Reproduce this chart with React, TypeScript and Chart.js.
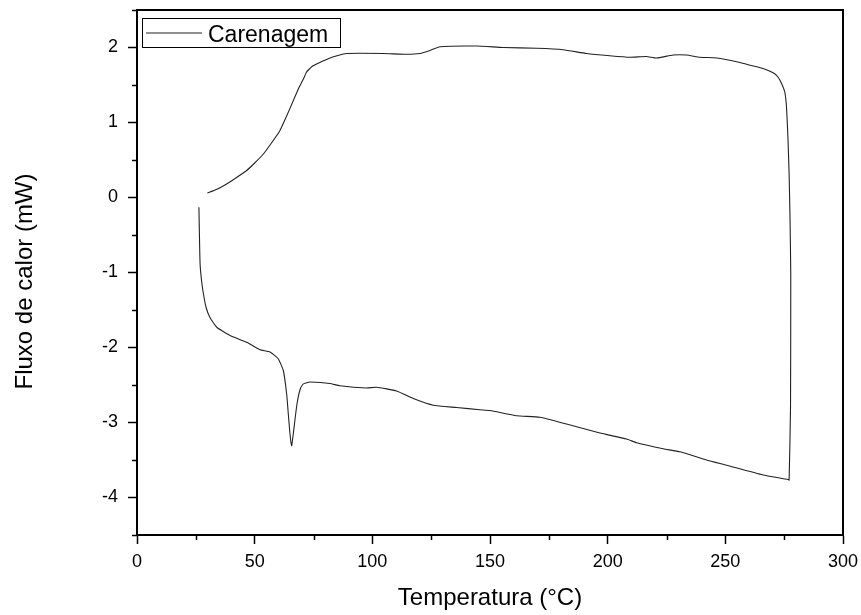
import React, { useEffect, useRef } from "react";
import { Chart, registerables } from "chart.js";

Chart.register(...registerables);

const seriesLabel = "Carenagem";
const xTitle = "Temperatura (°C)";
const yTitle = "Fluxo de calor (mW)";

// DSC loop: heating branch (bottom) then return branch (top)
const temperature = [
  26.3, 26.5, 26.8, 27.4, 28.2, 29.4, 31.0, 33.9, 39.5, 46.6, 52.3, 56.5, 60.0, 62.2, 63.6,
  64.2, 65.0, 65.7, 66.3, 67.1, 68.0, 69.2, 70.5, 72.1, 73.5, 82.0, 86.2, 97.6, 101.8, 110.3,
  117.4, 125.9, 135.8, 145.7, 150.0, 161.3, 171.2, 182.5, 196.7, 208.0, 212.3, 223.6, 230.7,
  242.0, 250.5, 266.0, 276.7, 277.1,
  277.7, 277.8, 277.5, 277.1, 276.6, 276.0, 275.3, 273.9, 272.5, 271.0, 268.5, 266.0, 261.0,
  256.2, 246.3, 239.2, 233.5, 227.8, 220.8,
  216.5, 209.4, 200.9, 191.0, 181.1, 169.8, 155.6, 144.3, 128.7, 124.5, 120.2, 114.6, 104.6,
  89.1, 85.0, 82.0, 79.0, 76.3, 74.5, 72.8, 72.0, 70.7, 68.6, 66.4, 63.5, 60.7, 57.0, 53.7,
  50.0, 46.6, 42.0, 38.1, 34.0, 29.9,
];
const heatFlow = [
  -0.13, -0.45, -0.88, -1.10, -1.28, -1.47, -1.60, -1.73, -1.84, -1.93, -2.03, -2.06, -2.15, -2.31, -2.62,
  -2.85, -3.15, -3.31, -3.18, -2.97, -2.75, -2.57, -2.49, -2.47, -2.46, -2.48, -2.51, -2.54, -2.53, -2.58,
  -2.68, -2.77, -2.80, -2.83, -2.84, -2.91, -2.93, -3.02, -3.14, -3.22, -3.27, -3.35, -3.39,
  -3.50, -3.57, -3.70, -3.76, -3.77,
  -2.80, -1.02, -0.30, 0.32, 0.80, 1.20, 1.40, 1.52, 1.60, 1.65, 1.69, 1.72, 1.76,
  1.80, 1.86, 1.87, 1.90, 1.90, 1.86,
  1.88, 1.87, 1.89, 1.92, 1.97, 1.99, 2.00, 2.02, 2.01, 1.96, 1.92, 1.91, 1.92,
  1.92, 1.89, 1.86, 1.82, 1.78, 1.75, 1.70, 1.67, 1.58, 1.45, 1.29, 1.08, 0.89, 0.72, 0.58,
  0.46, 0.36, 0.26, 0.18, 0.11, 0.06,
];

const xMin = 0, xMax = 300, xMajor = 50, xMinor = 25;
const yMin = -4.5, yMax = 2.5, yMajor = 1, yMinor = 0.5;

const FONT = "'Liberation Sans', Arial, sans-serif";

const framePlugin = {
  id: "frame",
  afterDraw(chart: any) {
    const { ctx, chartArea } = chart;
    const { left, right, top, bottom } = chartArea;
    ctx.save();
    ctx.strokeStyle = "#000";
    ctx.lineWidth = 2;
    ctx.beginPath();
    ctx.moveTo(left, top);
    ctx.lineTo(right, top);
    ctx.lineTo(right, bottom);
    ctx.stroke();
    // minor ticks
    ctx.lineWidth = 1.5;
    const xs = chart.scales.x;
    const ys = chart.scales.y;
    for (let v = xMin; v <= xMax + 1e-9; v += xMinor) {
      if (Math.abs(v / xMajor - Math.round(v / xMajor)) < 1e-6) continue;
      const px = Math.round(xs.getPixelForValue(v)) + 0.5;
      ctx.beginPath();
      ctx.moveTo(px, bottom);
      ctx.lineTo(px, bottom + 5);
      ctx.stroke();
    }
    for (let v = yMin; v <= yMax + 1e-9; v += yMinor) {
      if (Math.abs(v / yMajor - Math.round(v / yMajor)) < 1e-6) continue;
      const py = Math.round(ys.getPixelForValue(v)) + 0.5;
      ctx.beginPath();
      ctx.moveTo(left, py);
      ctx.lineTo(left - 5, py);
      ctx.stroke();
    }
    // y axis title (slightly below plot centre, as in the original)
    ctx.save();
    ctx.fillStyle = "#000";
    ctx.font = `24px ${FONT}`;
    ctx.textAlign = "center";
    ctx.textBaseline = "middle";
    ctx.translate(25, (top + bottom) / 2 + 9);
    ctx.rotate(-Math.PI / 2);
    ctx.fillText(yTitle, 0, 0);
    ctx.restore();
    // legend inside plot
    const ds = chart.data.datasets[0];
    ctx.lineWidth = 1;
    ctx.strokeStyle = "#000";
    ctx.strokeRect(left + 5.5, top + 8.5, 198, 29);
    ctx.strokeStyle = ds.borderColor;
    ctx.lineWidth = 1;
    ctx.beginPath();
    ctx.moveTo(left + 9, top + 23);
    ctx.lineTo(left + 65, top + 23);
    ctx.stroke();
    ctx.fillStyle = "#000";
    ctx.font = `23px ${FONT}`;
    ctx.textBaseline = "alphabetic";
    ctx.textAlign = "left";
    ctx.fillText(ds.label, left + 71, top + 32);
    ctx.restore();
  },
};

export default function App() {
  const ref = useRef<HTMLCanvasElement>(null);
  useEffect(() => {
    if (!ref.current) return;
    const points = temperature.map((t, i) => ({ x: t, y: heatFlow[i] }));
    const isMajor = (v: number, step: number) => Math.abs(v / step - Math.round(v / step)) < 1e-6;
    const chart = new Chart(ref.current, {
      type: "scatter",
      data: {
        datasets: [
          {
            label: seriesLabel,
            data: points,
            showLine: true,
            borderColor: "#222",
            borderWidth: 1.1,
            pointRadius: 0,
            tension: 0.15,
            fill: false,
          },
        ],
      },
      options: {
        responsive: false,
        animation: false,
        layout: { padding: { left: 0, right: 18, top: 10, bottom: 0 } },
        plugins: { legend: { display: false }, tooltip: { enabled: false } },
        scales: {
          x: {
            type: "linear",
            min: xMin,
            max: xMax,
            afterFit: (s: any) => { s.height = 80; s.paddingLeft = 0; s.paddingRight = 0; },
            border: { display: true, color: "#000", width: 2 },
            grid: {
              drawOnChartArea: false,
              drawTicks: true,
              tickLength: 9,
              tickWidth: 1.5,
              tickColor: (c: any) => (c.tick && isMajor(c.tick.value, xMajor) ? "#000" : "rgba(0,0,0,0)"),
            },
            ticks: {
              stepSize: xMinor,
              padding: 7,
              color: "#000",
              font: { family: FONT, size: 18 },
              maxRotation: 0,
              autoSkip: false,
              callback: (v: any) => (isMajor(Number(v), xMajor) ? String(v) : ""),
            },
            title: {
              display: true,
              text: xTitle,
              color: "#000",
              font: { family: FONT, size: 24 },
              padding: { top: 0, bottom: 2 },
            },
          },
          y: {
            type: "linear",
            min: yMin,
            max: yMax,
            afterFit: (s: any) => { s.width = 137; s.paddingTop = 0; s.paddingBottom = 0; },
            border: { display: true, color: "#000", width: 2 },
            grid: {
              drawOnChartArea: false,
              drawTicks: true,
              tickLength: 9,
              tickWidth: 1.5,
              tickColor: (c: any) => (c.tick && isMajor(c.tick.value, yMajor) ? "#000" : "rgba(0,0,0,0)"),
            },
            ticks: {
              stepSize: yMinor,
              padding: 10,
              color: "#000",
              font: { family: FONT, size: 18 },
              autoSkip: false,
              callback: (v: any) => (isMajor(Number(v), yMajor) ? String(v) : ""),
            },
            title: { display: false, text: yTitle },
          },
        },
      },
      plugins: [framePlugin],
    });
    return () => chart.destroy();
  }, []);
  return (
    <canvas
      ref={ref}
      width={861}
      height={615}
      style={{ position: "absolute", left: 0, top: 0, display: "block", width: 861, height: 615 }}
    />
  );
}
